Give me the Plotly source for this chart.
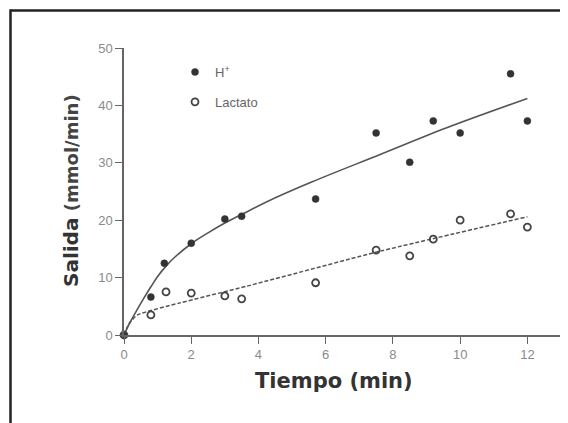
import plotly.graph_objects as go

# Measured data
time_h = [0, 0.8, 1.2, 2.0, 3.0, 3.5, 5.7, 7.5, 8.5, 9.2, 10.0, 11.5, 12.0]
h_out = [0, 6.6, 12.5, 16.0, 20.2, 20.7, 23.7, 35.2, 30.1, 37.3, 35.2, 45.5, 37.3]

time_lac = [0, 0.8, 1.25, 2.0, 3.0, 3.5, 5.7, 7.5, 8.5, 9.2, 10.0, 11.5, 12.0]
lac_out = [0, 3.5, 7.5, 7.3, 6.8, 6.3, 9.1, 14.8, 13.8, 16.7, 20.0, 21.1, 18.8]

# Fitted curves
fit_h_x = [0, 0.2, 0.4, 0.6, 0.8, 1.0, 1.25, 1.5, 2.0, 2.5, 3.0, 3.5, 4.5, 5.6, 7.6, 9.6, 12.0]
fit_h_y = [0, 2.4, 4.5, 6.5, 8.4, 10.2, 12.0, 13.5, 15.9, 17.8, 19.5, 21.0, 23.9, 26.7, 31.4, 36.1, 41.2]

fit_lac_x = [0, 0.15, 0.4, 1.67, 3.65, 7.62, 12.0]
fit_lac_y = [0, 2.0, 3.5, 5.6, 8.5, 14.6, 20.6]

x_ticks = [0, 2, 4, 6, 8, 10, 12]
y_ticks = [0, 10, 20, 30, 40, 50]

# page has an 8px body margin: figure coordinates = screen coordinates - 8
OFF = 8
W, H = 568 - OFF, 423 - OFF
L, R, T, B = 124 - OFF, 561 - OFF, 48 - OFF, 335 - OFF


def px(xp):
    return (xp - OFF - L) / (R - L)


def py(yp):
    return (B - (yp - OFF)) / (B - T)


fig = go.Figure()

fig.add_trace(go.Scatter(
    x=fit_h_x, y=fit_h_y, mode="lines", showlegend=False,
    line=dict(color="#555555", width=1.6, shape="spline", smoothing=1.0),
    hoverinfo="skip", cliponaxis=False))
fig.add_trace(go.Scatter(
    x=fit_lac_x, y=fit_lac_y, mode="lines", showlegend=False,
    line=dict(color="#555555", width=1.5, dash="4px,2px", shape="spline", smoothing=0.5),
    hoverinfo="skip", cliponaxis=False))

fig.add_trace(go.Scatter(
    x=time_h, y=h_out, mode="markers", name="H<sup>+</sup>", legendgroup="a",
    marker=dict(symbol="circle", size=7, color="#333333", line=dict(color="#333333", width=0.5)),
    cliponaxis=False))
fig.add_trace(go.Scatter(
    x=time_lac, y=lac_out, mode="markers", name="Lactato", legendgroup="b",
    marker=dict(symbol="circle-open", size=7, color="#444444", line=dict(color="#444444", width=1.8)),
    cliponaxis=False))

axis_common = dict(
    showgrid=False, zeroline=False, showline=True, linecolor="#666666", linewidth=1.5,
    ticks="outside", ticklen=7, tickwidth=1.3, tickcolor="#666666",
    tickfont=dict(family="Liberation Sans, Arial", size=13, color="#8a8a8a"),
)

fig.update_xaxes(range=[0, 13], tickvals=x_ticks, **axis_common)
fig.update_yaxes(range=[0, 50], tickvals=y_ticks, **axis_common)

fig.update_layout(
    width=W, height=H,
    margin=dict(l=L, r=W - R, t=T, b=H - B, pad=0),
    paper_bgcolor="white", plot_bgcolor="white",
    showlegend=True,
    legend=dict(x=px(175), y=py(57), xanchor="left", yanchor="top",
                font=dict(family="Liberation Sans, Arial", size=13, color="#666666"),
                tracegroupgap=10, bgcolor="rgba(0,0,0,0)", itemwidth=30),
    annotations=[
        dict(text="<b>Tiempo (min)</b>", xref="paper", yref="paper",
             x=px(334), y=py(381), xanchor="center", yanchor="middle", showarrow=False,
             font=dict(family="DejaVu Sans", size=21, color="#333333")),
        dict(text="<b>Salida</b> <b><span style='font-size:18px;color:#444444'>(mmol/min)</span></b>",
             xref="paper", yref="paper",
             x=px(71), y=py(191), xanchor="center", yanchor="middle", showarrow=False, textangle=-90,
             font=dict(family="DejaVu Sans", size=20, color="#333333")),
    ],
    shapes=[
        dict(type="line", xref="paper", yref="paper", x0=px(10.5), x1=px(575), y0=py(10.5), y1=py(10.5),
             line=dict(color="#222222", width=2.5)),
        dict(type="line", xref="paper", yref="paper", x0=px(10.5), x1=px(10.5), y0=py(9.3), y1=py(430),
             line=dict(color="#222222", width=2.5)),
    ],
)

fig.write_html("out.html")
